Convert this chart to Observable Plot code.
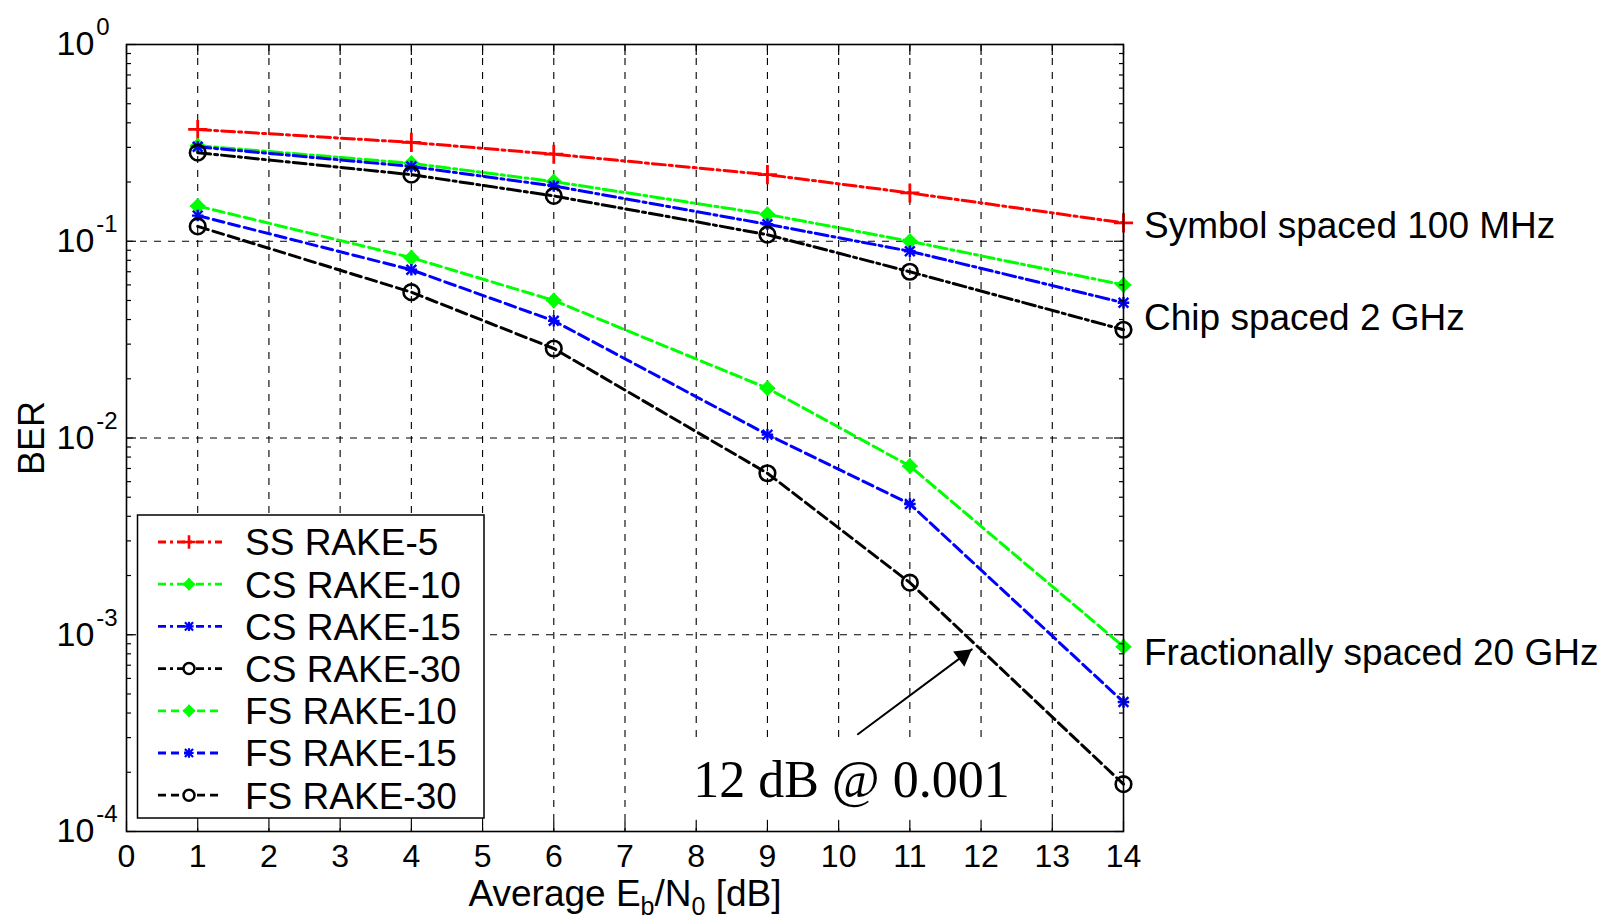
<!DOCTYPE html>
<html><head><meta charset="utf-8">
<script src="https://cdn.jsdelivr.net/npm/d3@7"></script>
<script src="https://cdn.jsdelivr.net/npm/@observablehq/plot@0.6"></script>
<style>
html,body{margin:0;padding:0;background:#fff;}
#chart{width:1604px;height:923px;}
</style></head><body><div id="chart"></div>
<script>
// ---- data ----
const ebn0 = [1, 4, 6, 9, 11, 14];
const ssRake5  = [0.370, 0.318, 0.277, 0.218, 0.176, 0.124];
const csRake10 = [0.306, 0.249, 0.201, 0.137, 0.100, 0.060];
const csRake15 = [0.302, 0.240, 0.191, 0.122, 0.089, 0.0487];
const csRake30 = [0.282, 0.218, 0.170, 0.108, 0.070, 0.0355];
const fsRake10 = [0.151, 0.0825, 0.050, 0.0179, 0.0072, 0.00087];
const fsRake15 = [0.135, 0.0716, 0.0394, 0.0104, 0.00462, 0.000455];
const fsRake30 = [0.119, 0.0551, 0.0285, 0.00662, 0.00184, 0.000174];
const seriesNames = ["SS RAKE-5","CS RAKE-10","CS RAKE-15","CS RAKE-30","FS RAKE-10","FS RAKE-15","FS RAKE-30"];
const seriesValues = [ssRake5, csRake10, csRake15, csRake30, fsRake10, fsRake15, fsRake30];
const xTicks = [0,1,2,3,4,5,6,7,8,9,10,11,12,13,14];
const xGrid = [1,2,3,4,5,6,7,8,9,10,11,12,13];
const yTicks = [1e-4, 1e-3, 1e-2, 1e-1, 1];
const yTickLabels = ["10^-4","10^-3","10^-2","10^-1","10^0"];
const yGrid = [1e-3, 1e-2, 1e-1];
const yMinor = [-4,-3,-2,-1].flatMap(e => [2,3,4,5,6,7,8,9].map(k => k * Math.pow(10, e)));
const xLabel = "Average E_b/N_0 [dB]";
const yLabel = "BER";
const groupLabels = ["Symbol spaced 100 MHz", "Chip spaced 2 GHz", "Fractionally spaced 20 GHz"];
const groupLabelY = [0.12, 0.0408, 0.000805];
const groupLabelX = 14;
const noteText = "12 dB @ 0.001";
const noteX = 10.18, noteY = 1.81e-4;
const noteBox = {x1: 7.9, x2: 12.47, y1: 1.14e-4, y2: 3.0e-4};
const noteArrow = {x1: 10.27, y1: 3.12e-4, x2: 11.87, y2: 8.43e-4};

// ---- styles ----
const DASHDOT = "13,4,3,4", DASHED = "11,5";
const styles = [
  {color:"#ff0000", dash:DASHDOT, marker:"plus"},
  {color:"#00ff00", dash:DASHDOT, marker:"diamond"},
  {color:"#0000ff", dash:DASHDOT, marker:"star"},
  {color:"#000000", dash:DASHDOT, marker:"circle"},
  {color:"#00ff00", dash:DASHED, marker:"diamond"},
  {color:"#0000ff", dash:DASHED, marker:"star"},
  {color:"#000000", dash:DASHED, marker:"circle"}
];
const FONT = '"Liberation Sans", Arial, Helvetica, sans-serif';

function markerMarks(rows, st) {
  const base = {x:"x", y:"y"};
  switch (st.marker) {
    case "plus": return [Plot.dot(rows, {...base, symbol:"plus", r:6.2, stroke:st.color, strokeWidth:2.8})];
    case "diamond": return [Plot.dot(rows, {...base, symbol:"diamond2", r:5.8, fill:st.color, stroke:st.color, strokeWidth:2.2}),
                            Plot.dot(rows, {...base, symbol:"plus", r:5, stroke:st.color, strokeWidth:2})];
    case "star": return [Plot.dot(rows, {...base, symbol:"plus", r:3.8, stroke:st.color, strokeWidth:2.4}),
                         Plot.dot(rows, {...base, symbol:"times", r:4.5, stroke:st.color, strokeWidth:2.4})];
    default: return [Plot.dot(rows, {...base, symbol:"circle", r:7.8, stroke:st.color, fill:"none", strokeWidth:2.6})];
  }
}

const seriesMarks = seriesValues.flatMap((vals, i) => {
  const rows = ebn0.map((x, j) => ({x, y: vals[j], series: seriesNames[i]}));
  const st = styles[i];
  return [Plot.line(rows, {x:"x", y:"y", stroke:st.color, strokeWidth:3, strokeDasharray:st.dash}), ...markerMarks(rows, st)];
});

const plot = Plot.plot({
  width: 1604, height: 923,
  marginLeft: 126, marginRight: 481, marginTop: 44, marginBottom: 92,
  x: {domain: [0, 14]},
  y: {type: "log", domain: [1e-4, 1]},
  style: {fontFamily: FONT, fontSize: "32px", background: "white", color: "black", overflow: "visible"},
  marks: [
    Plot.gridX({ticks: xGrid, stroke: "black", strokeOpacity: 1, strokeWidth: 1.1, strokeDasharray: "7,7"}),
    Plot.gridY({ticks: yGrid, stroke: "black", strokeOpacity: 1, strokeWidth: 1.1, strokeDasharray: "7,7"}),
    Plot.rect([noteBox], {x1:"x1", x2:"x2", y1:"y1", y2:"y2", fill:"white"}),
    ...seriesMarks,
    Plot.frame({stroke: "black", strokeWidth: 1.6}),
    Plot.axisX({ticks: xTicks, anchor: "bottom", tickSize: -10, tickPadding: 23, fontSize: 32, label: null, strokeWidth: 1.2}),
    Plot.axisX({ticks: xTicks, anchor: "top", tickSize: -10, tickFormat: () => "", label: null, strokeWidth: 1.2}),
    Plot.axisY({ticks: yTicks, anchor: "left", tickSize: -10, tickFormat: () => "", label: null, strokeWidth: 1.2}),
    Plot.axisY({ticks: yTicks, anchor: "right", tickSize: -10, tickFormat: () => "", label: null, strokeWidth: 1.2}),
    Plot.axisY({ticks: yMinor, anchor: "left", tickSize: -5, tickFormat: () => "", label: null, strokeWidth: 1.2}),
    Plot.axisY({ticks: yMinor, anchor: "right", tickSize: -5, tickFormat: () => "", label: null, strokeWidth: 1.2}),
    Plot.text(yTicks, {x: () => 0, y: d => d, text: (d, i) => yTickLabels[i], textAnchor: "start", lineAnchor: "middle", dx: -70, fontSize: 34}),
    Plot.text([xLabel], {frameAnchor: "bottom", text: d => d, textAnchor: "middle", lineAnchor: "middle", dy: 63, fontSize: 37}),
    Plot.text([yLabel], {frameAnchor: "left", text: d => d, rotate: -90, textAnchor: "middle", lineAnchor: "middle", dx: -94, fontSize: 36}),
    Plot.text(groupLabels, {x: () => groupLabelX, y: (d, i) => groupLabelY[i], text: d => d, textAnchor: "start", lineAnchor: "middle", dx: 20.5, fontSize: 37}),
    Plot.arrow([noteArrow], {x1:"x1", y1:"y1", x2:"x2", y2:"y2", stroke:"black", strokeWidth:2, headLength:0}),
    Plot.dot([noteArrow], {x:"x2", y:"y2", symbol:"triangle", r:7, rotate:53.3, dx:-8.7, dy:6.5, fill:"black", stroke:"none"}),
    Plot.text([noteText], {x: () => noteX, y: () => noteY, text: d => d, textAnchor: "middle", lineAnchor: "middle", fontSize: 52, fontFamily: '"Liberation Serif", "Times New Roman", serif'})
  ]
});

// rich text: superscripts / subscripts
d3.select(plot).selectAll("text").each(function() {
  const t = this.textContent;
  const el = d3.select(this);
  const m = /^10\^(-?\d+)$/.exec(t);
  if (m) {
    el.text(null);
    el.append("tspan").text("10");
    el.append("tspan").attr("dx", 2).attr("dy", -20).attr("font-size", 24).text(m[1]);
  } else if (t === xLabel) {
    el.text(null);
    el.append("tspan").text("Average E");
    el.append("tspan").attr("dy", 9).attr("font-size", 25).text("b");
    el.append("tspan").attr("dy", -9).text("/N");
    el.append("tspan").attr("dy", 9).attr("font-size", 25).text("0");
    el.append("tspan").attr("dy", -9).text("\u00a0[dB]");
  }
});

// legend (inside the axes, MATLAB-style)
const svg = d3.select(plot);
const lg = svg.append("g").attr("font-family", FONT).attr("text-anchor", "start");
lg.append("rect").attr("x", 137.5).attr("y", 515).attr("width", 346.5).attr("height", 303)
  .attr("fill", "white").attr("stroke", "black").attr("stroke-width", 1.5);
seriesNames.forEach((name, i) => {
  const st = styles[i];
  const y = 542 + i * 42.2;
  lg.append("line").attr("x1", 158).attr("x2", 222).attr("y1", y).attr("y2", y)
    .attr("stroke", st.color).attr("stroke-width", 2.8).attr("stroke-dasharray", st.dash === DASHDOT ? "8,4,3,4" : "8,5");
  const g = lg.append("g").attr("transform", `translate(189,${y})`);
  if (st.marker === "plus") g.append("path").attr("d", d3.symbol(d3.symbolPlus, 60)()).attr("stroke", st.color).attr("stroke-width", 2.6).attr("fill", "none");
  if (st.marker === "circle") g.append("path").attr("d", d3.symbol(d3.symbolCircle, Math.PI*5.5*5.5)()).attr("stroke", st.color).attr("stroke-width", 2.5).attr("fill", "white");
  if (st.marker === "diamond") {
    g.append("path").attr("d", d3.symbol(d3.symbolDiamond2, Math.PI*4.5*4.5)()).attr("stroke", st.color).attr("stroke-width", 2).attr("fill", st.color);
    g.append("path").attr("d", d3.symbol(d3.symbolPlus, 50)()).attr("stroke", st.color).attr("stroke-width", 2).attr("fill", "none");
  }
  if (st.marker === "star") {
    g.append("path").attr("d", d3.symbol(d3.symbolPlus, 30)()).attr("stroke", st.color).attr("stroke-width", 2.2).attr("fill", "none");
    g.append("path").attr("d", d3.symbol(d3.symbolTimes, Math.PI*3.8*3.8)()).attr("stroke", st.color).attr("stroke-width", 2.2).attr("fill", "none");
  }
  lg.append("text").attr("x", 245).attr("y", y).attr("dy", "0.36em").attr("font-size", 37).attr("fill", "black").text(name);
});

document.getElementById("chart").appendChild(plot);
</script>
</body></html>
